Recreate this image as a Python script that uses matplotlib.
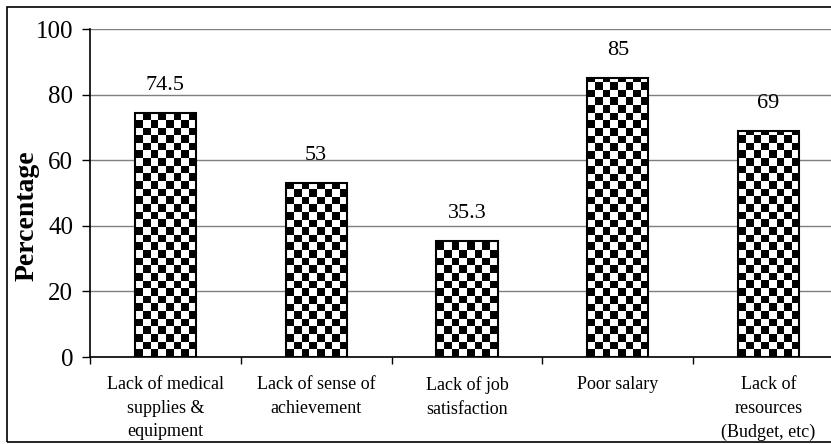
import numpy as np
import matplotlib.pyplot as plt
from matplotlib.patches import Rectangle

# причины / значения
categories = ['Lack of medical\nsupplies &\nequipment',
              'Lack of sense of\nachievement',
              'Lack of job\nsatisfaction',
              'Poor salary',
              'Lack of\nresources\n(Budget, etc)']
values = [74.5, 53, 35.3, 85, 69]
value_labels = ['74.5', '53', '35.3', '85', '69']
y_ticks = [0, 20, 40, 60, 80, 100]

plt.rcParams['font.family'] = ['Liberation Serif', 'DejaVu Serif']

fig = plt.figure(figsize=(8.31, 4.44), dpi=100)
ax = fig.add_axes([90 / 831, 87 / 444, 754 / 831, 328 / 444])

x = np.arange(len(values))
bars = ax.bar(x, values, width=0.405, color='none', edgecolor='black',
              linewidth=1.5, zorder=3)

ax.set_xlim(-0.5, len(values) - 0.5)
ax.set_ylim(0, 100)

# шахматная заливка столбцов
cell = 7.5  # размер клетки, px
nx = int(754 / cell)
ny = int(328 / cell)
checker = (np.indices((ny, nx)).sum(axis=0) % 2).astype(float)
for b in bars:
    im = ax.imshow(checker, cmap='gray', extent=(-0.5, len(values) - 0.5, 0, 100),
                   aspect='auto', interpolation='nearest', zorder=2)
    im.set_clip_path(b)

# подписи значений
for b, lab in zip(bars, value_labels):
    ax.annotate(lab, (b.get_x() + b.get_width() / 2, b.get_height()),
                xytext=(0, 16.5), textcoords='offset points',
                ha='center', va='baseline', fontsize=16)

ax.set_yticks(y_ticks)
ax.tick_params(axis='y', labelsize=18, length=6, width=1, pad=6, direction='out')
ax.yaxis.grid(True, color='#7f7f7f', linewidth=1)
ax.set_axisbelow(True)

ax.set_xticks(x)
ax.set_xticklabels(categories, fontsize=13, linespacing=1.5)
ax.tick_params(axis='x', length=0, pad=14)
ax.set_xticks(np.arange(len(values) + 1) - 0.5, minor=True)
ax.tick_params(axis='x', which='minor', length=5, width=1, direction='out')

ax.set_ylabel('Percentage', fontsize=20, fontweight='bold')
ax.yaxis.set_label_coords((40 - 90) / 754, 0.43)

for s in ['top', 'right']:
    ax.spines[s].set_visible(False)
ax.spines['left'].set_linewidth(1.2)
ax.spines['bottom'].set_linewidth(1.2)

# рамка вокруг диаграммы
fig.patches.append(Rectangle((7 / 831, 2 / 444), 1.2, 435 / 444,
                             transform=fig.transFigure, fill=False,
                             edgecolor='black', linewidth=1.2))

fig.savefig('out.png', dpi=100)
